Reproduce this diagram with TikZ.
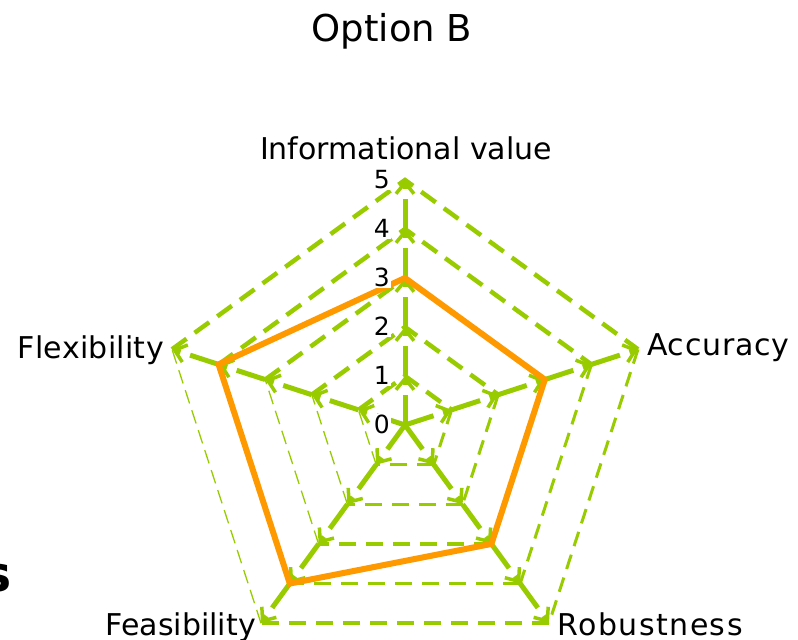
\documentclass[tikz,border=0pt]{standalone}
\usepackage{fontspec}
\setmainfont{DejaVu Sans}
\usetikzlibrary{arrows.meta}
\definecolor{gridgreen}{RGB}{153,204,0}
\definecolor{lineorange}{RGB}{255,153,0}

\begin{document}
\begin{tikzpicture}[x=1pt, y=1pt,
    axisline/.style={gridgreen, line width=5pt, dash pattern=on 30pt off 10pt,
        -{Straight Barb[length=11pt, width=18pt, line width=3.5pt]}},
    gridtop/.style={gridgreen, line width=4.5pt, dash pattern=on 18pt off 10pt},
    gridright/.style={gridgreen, line width=3pt, dash pattern=on 15pt off 9pt},
    gridbottom/.style={gridgreen, line width=3.5pt, dash pattern=on 17pt off 10pt},
    gridleft/.style={gridgreen, line width=1.3pt, dash pattern=on 14pt off 7pt},
    dataline/.style={lineorange, line width=6pt},
    axislabel/.style={font=\fontsize{30}{34}\selectfont, inner sep=0pt},
    levellabel/.style={font=\fontsize{25}{28}\selectfont, fill=white, inner sep=1pt, anchor=base east}]
    \useasboundingbox (0,0) rectangle (798,640);

    % points of the chart
    \begin{scope}[shift={(405,215)}]
        \foreach \name/\ang in {info/90, acc/18, rob/-54, feas/-126, flex/162} {
            \foreach \k in {0,...,5}
                \coordinate (\name-\k) at (\ang:\k*49);
        }
    \end{scope}

    % grid
    \foreach \k in {1,...,5} {
        \draw[gridtop] (flex-\k) -- (info-\k) -- (acc-\k);
        \draw[gridright] (acc-\k) -- (rob-\k);
        \draw[gridbottom] (rob-\k) -- (feas-\k);
        \draw[gridleft] (feas-\k) -- (flex-\k);
    }

    % axes
    \foreach \name in {info, acc, rob, feas, flex} {
        \foreach \k/\j in {0/1, 1/2, 2/3, 3/4, 4/5}
            \draw[axisline] (\name-\k) -- (\name-\j);
    }

    % values
    \draw[dataline] (info-3) -- (acc-3) -- (rob-3) -- (feas-4) -- (flex-4) -- cycle;

    % scale
    \foreach \k in {0,...,5}
        \node[levellabel] (lvl-\k) at (391, 206+\k*49) {\k};

    \node[font=\fontsize{37}{42}\selectfont, inner sep=0pt, anchor=base] (title) at (392,598) {Option B};
    \node[axislabel, anchor=base] (infolabel) at (406,480) {Informational value};
    \node[axislabel, anchor=base west] (acclabel) at (647,284) {\addfontfeatures{LetterSpace=2.5}Accuracy};
    \node[axislabel, anchor=base west] (roblabel) at (557,5) {\addfontfeatures{LetterSpace=5}Robustness};
    \node[axislabel, anchor=base east] (feaslabel) at (256,5) {Feasibility};
    \node[axislabel, anchor=base east] (flexlabel) at (164,281) {\addfontfeatures{LetterSpace=1}Flexibility};
    \node[font=\fontsize{49}{54}\selectfont\bfseries, inner sep=0pt, anchor=base east] (cut) at (12,48) {s};
\end{tikzpicture}
\end{document}
